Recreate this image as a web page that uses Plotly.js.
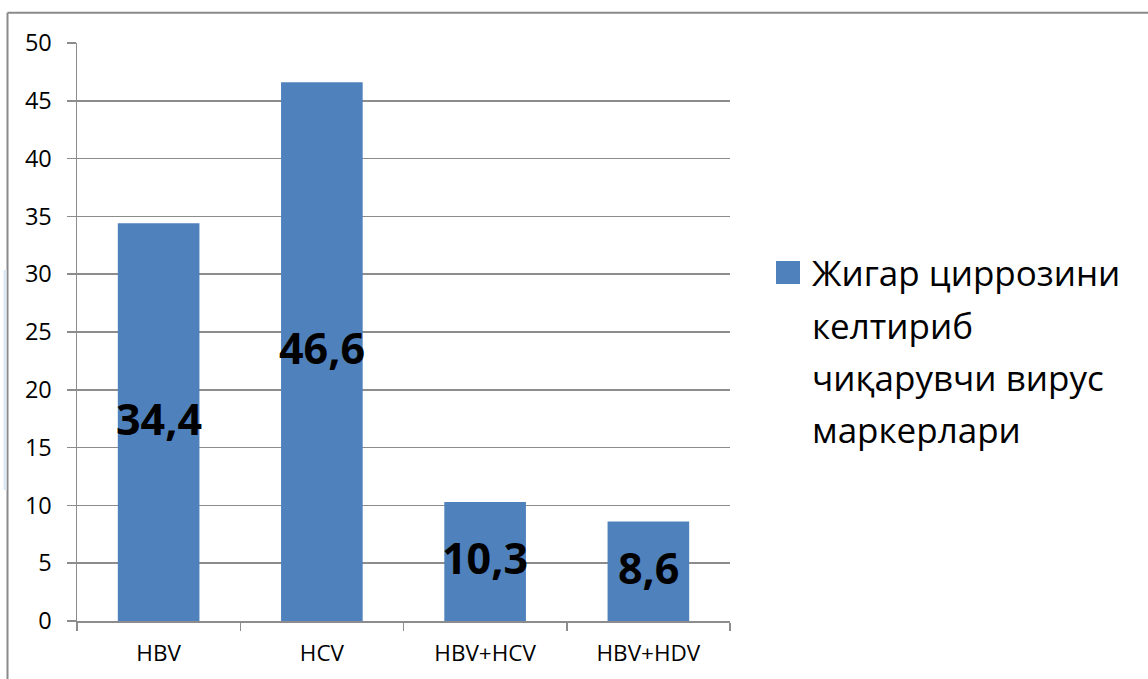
<!DOCTYPE html>
<html>
<head>
<meta charset="utf-8">
<script src="https://cdn.plot.ly/plotly-3.0.1.min.js"></script>
<style>
  html, body { margin: 0; padding: 0; background: #fff; overflow: hidden; }
  #chart { width: 1148px; height: 679px; }
</style>
</head>
<body>
<div id="chart"></div>
<script>
const categories = ["HBV", "HCV", "HBV+HCV", "HBV+HDV"];
const values = [34.4, 46.6, 10.3, 8.6];
const seriesName = "Жигар циррозини келтириб чиқарувчи вирус маркерлари";
const legendLines = ["Жигар циррозини", "келтириб", "чиқарувчи вирус", "маркерлари"];
const yTicks = [0, 5, 10, 15, 20, 25, 30, 35, 40, 45, 50];

const W = 1148, H = 679;
const L = 77, R = 418, T = 43, B = 58;
const pw = W - L - R, ph = H - T - B;
const px = x => (x - L) / pw;
const py = y => (H - B - y) / ph;

const FONT = "Open Sans, Noto Sans, DejaVu Sans, sans-serif";
const BAR = "#4f81bd";
const GRID = "#8c8c8c";

const trace = {
  type: "bar",
  x: categories,
  y: values,
  name: seriesName,
  marker: { color: BAR, line: { width: 0 } },
  showlegend: false,
  hoverinfo: "x+y"
};

const labelAnn = categories.map((c, i) => ({
  x: c, y: values[i] / 2, xref: "x", yref: "y",
  text: "<b>" + String(values[i]).replace(".", ",") + "</b>",
  showarrow: false,
  font: { family: FONT, size: 43, color: "#000" },
  xanchor: "center", yanchor: "middle", yshift: 4
}));

const legendY = [272, 325, 377, 430];
const legendAnn = legendLines.map((t, i) => ({
  x: px(810), y: py(legendY[i]), xref: "paper", yref: "paper",
  text: t, showarrow: false,
  font: { family: FONT, size: 35, color: "#000" },
  xanchor: "left", yanchor: "middle"
}));

const layout = {
  width: W, height: H,
  margin: { l: L, r: R, t: T, b: B, pad: 0 },
  paper_bgcolor: "#fff",
  plot_bgcolor: "#fff",
  bargap: 0.5,
  showlegend: false,
  xaxis: {
    type: "category",
    tickson: "boundaries",
    ticks: "outside",
    ticklen: 8,
    tickwidth: 1.5,
    tickcolor: GRID,
    showline: true,
    linecolor: GRID,
    linewidth: 1.5,
    showgrid: false,
    ticklabelstandoff: 11,
    tickfont: { family: FONT, size: 22.5, color: "#000" },
    fixedrange: true
  },
  yaxis: {
    range: [0, 50],
    tickvals: yTicks,
    ticktext: yTicks.map(String),
    ticks: "outside",
    ticklen: 9,
    tickwidth: 1.5,
    tickcolor: GRID,
    showline: true,
    linecolor: GRID,
    linewidth: 1.5,
    showgrid: true,
    gridcolor: GRID,
    gridwidth: 1.5,
    zeroline: false,
    ticklabelstandoff: 10,
    tickfont: { family: FONT, size: 23.5, color: "#000" },
    fixedrange: true
  },
  shapes: [
    { type: "line", xref: "paper", yref: "paper",
      x0: px(7.5), x1: px(1148), y0: py(12.7), y1: py(12.7),
      line: { color: "#8a8a8a", width: 2 } },
    { type: "line", xref: "paper", yref: "paper",
      x0: px(7.5), x1: px(7.5), y0: py(12.7), y1: py(679),
      line: { color: "#8a8a8a", width: 2 } },
    { type: "line", xref: "paper", yref: "paper",
      x0: px(5), x1: px(5), y0: py(270), y1: py(490),
      line: { color: "#dde8f5", width: 3 } },
    { type: "rect", xref: "paper", yref: "paper",
      x0: px(776), x1: px(800), y0: py(284), y1: py(261),
      line: { width: 0 }, fillcolor: BAR }
  ],
  annotations: labelAnn.concat(legendAnn)
};

Plotly.newPlot("chart", [trace], layout, { displayModeBar: false, staticPlot: true });
</script>
</body>
</html>
